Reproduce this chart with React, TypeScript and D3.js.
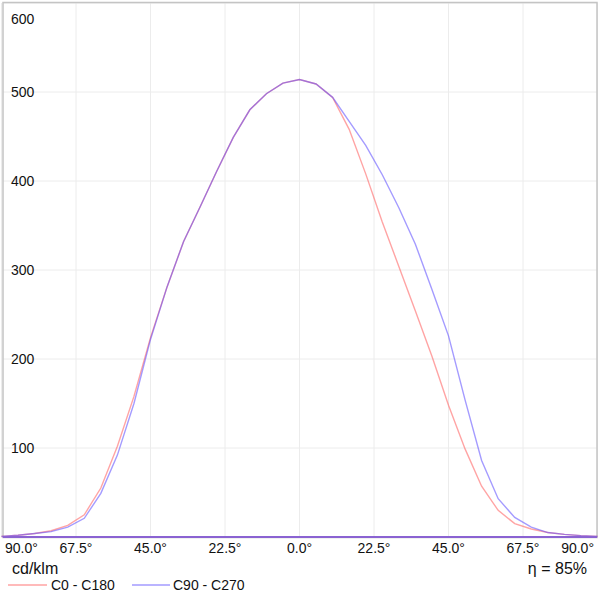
import React from "react";
import * as d3 from "d3";

const angles = [-90, -85, -80, -75, -70, -65, -60, -55, -50, -45, -40, -35, -30, -25, -20, -15, -10, -5, 0, 5, 10, 15, 20, 25, 30, 35, 40, 45, 50, 55, 60, 65, 70, 75, 80, 85, 90];
const c0c180 = [0.5, 2, 4, 7, 13, 25, 55, 102, 158, 224, 281, 332, 371, 411, 449, 480, 498, 510, 514, 509, 494, 458, 408, 354, 304, 254, 203, 148, 99, 57, 30, 15, 9, 5, 3, 1.5, 0.5];
const c90c270 = [0.5, 2, 4, 6, 11, 21, 49, 92, 150, 222, 281, 332, 371, 411, 449, 480, 498, 510, 514, 509, 494, 467, 440, 407, 370, 329, 278, 226, 154, 86, 43, 22, 11, 5, 3, 1.5, 0.5];
const xTicks = [-90, -67.5, -45, -22.5, 0, 22.5, 45, 67.5, 90];
const yTicks = [100, 200, 300, 400, 500, 600];
const seriesNames = ["C0 - C180", "C90 - C270"];
const unitLabel = "cd/klm";
const efficiencyLabel = "η = 85%";

const FONT = "Arial, 'Liberation Sans', sans-serif";

export default function App() {
  const x = d3.scaleLinear().domain([-90, 90]).range([1.5, 597.5]);
  const y = d3.scaleLinear().domain([0, 600]).range([537, 3]);
  const line = d3
    .line<number>()
    .x((_, i) => x(angles[i]))
    .y((d) => y(d));

  const redPath = line(c0c180) || "";
  const bluePath = line(c90c270) || "";

  return (
    <svg
      width={600}
      height={600}
      style={{ position: "absolute", left: 0, top: 0, background: "#fff" }}
      fontFamily={FONT}
    >
      {/* grid */}
      {xTicks.map((t) => (
        <line key={"gx" + t} x1={x(t)} x2={x(t)} y1={3} y2={537} stroke="#ececec" strokeWidth={1} />
      ))}
      {yTicks.map((t) => (
        <line key={"gy" + t} x1={3} x2={597} y1={y(t)} y2={y(t)} stroke="#ececec" strokeWidth={1} />
      ))}
      {/* frame */}
      <rect x={3} y={2.5} width={594} height={535} fill="none" stroke="#c4c4c4" strokeWidth={1.5} />
      {/* y labels */}
      {yTicks.map((t) => (
        <text key={"yl" + t} x={11} y={Math.max(y(t) + 5, 24)} fontSize={14} fill="#111">
          {t}
        </text>
      ))}
      {/* curves */}
      <path d={redPath} fill="none" stroke="#ff5a5a" strokeOpacity={0.55} strokeWidth={1.4} />
      <path d={bluePath} fill="none" stroke="#5a48ff" strokeOpacity={0.55} strokeWidth={1.4} />
      {/* baseline */}
      <line x1={3} x2={597} y1={y(0)} y2={y(0)} stroke="#8a63d2" strokeWidth={2} />
      {/* x labels */}
      {xTicks.map((t) => {
        const label = Math.abs(t).toFixed(1) + "°";
        let anchor: "start" | "middle" | "end" = "middle";
        let px = x(t);
        if (t === -90) {
          anchor = "start";
          px = 5;
        } else if (t === 90) {
          anchor = "end";
          px = 594;
        }
        return (
          <text key={"xl" + t} x={px} y={553} fontSize={14} textAnchor={anchor} fill="#111">
            {label}
          </text>
        );
      })}
      <text x={12} y={574} fontSize={16} fill="#111">
        {unitLabel}
      </text>
      <text x={587} y={574} fontSize={16} textAnchor="end" fill="#111">
        {efficiencyLabel}
      </text>
      {/* legend */}
      <line x1={8} x2={47} y1={585} y2={585} stroke="#ff5a5a" strokeOpacity={0.55} strokeWidth={1.4} />
      <text x={51} y={590} fontSize={14} fill="#111">
        {seriesNames[0]}
      </text>
      <line x1={132} x2={170} y1={585} y2={585} stroke="#5a48ff" strokeOpacity={0.55} strokeWidth={1.4} />
      <text x={173} y={590} fontSize={14} fill="#111">
        {seriesNames[1]}
      </text>
    </svg>
  );
}
